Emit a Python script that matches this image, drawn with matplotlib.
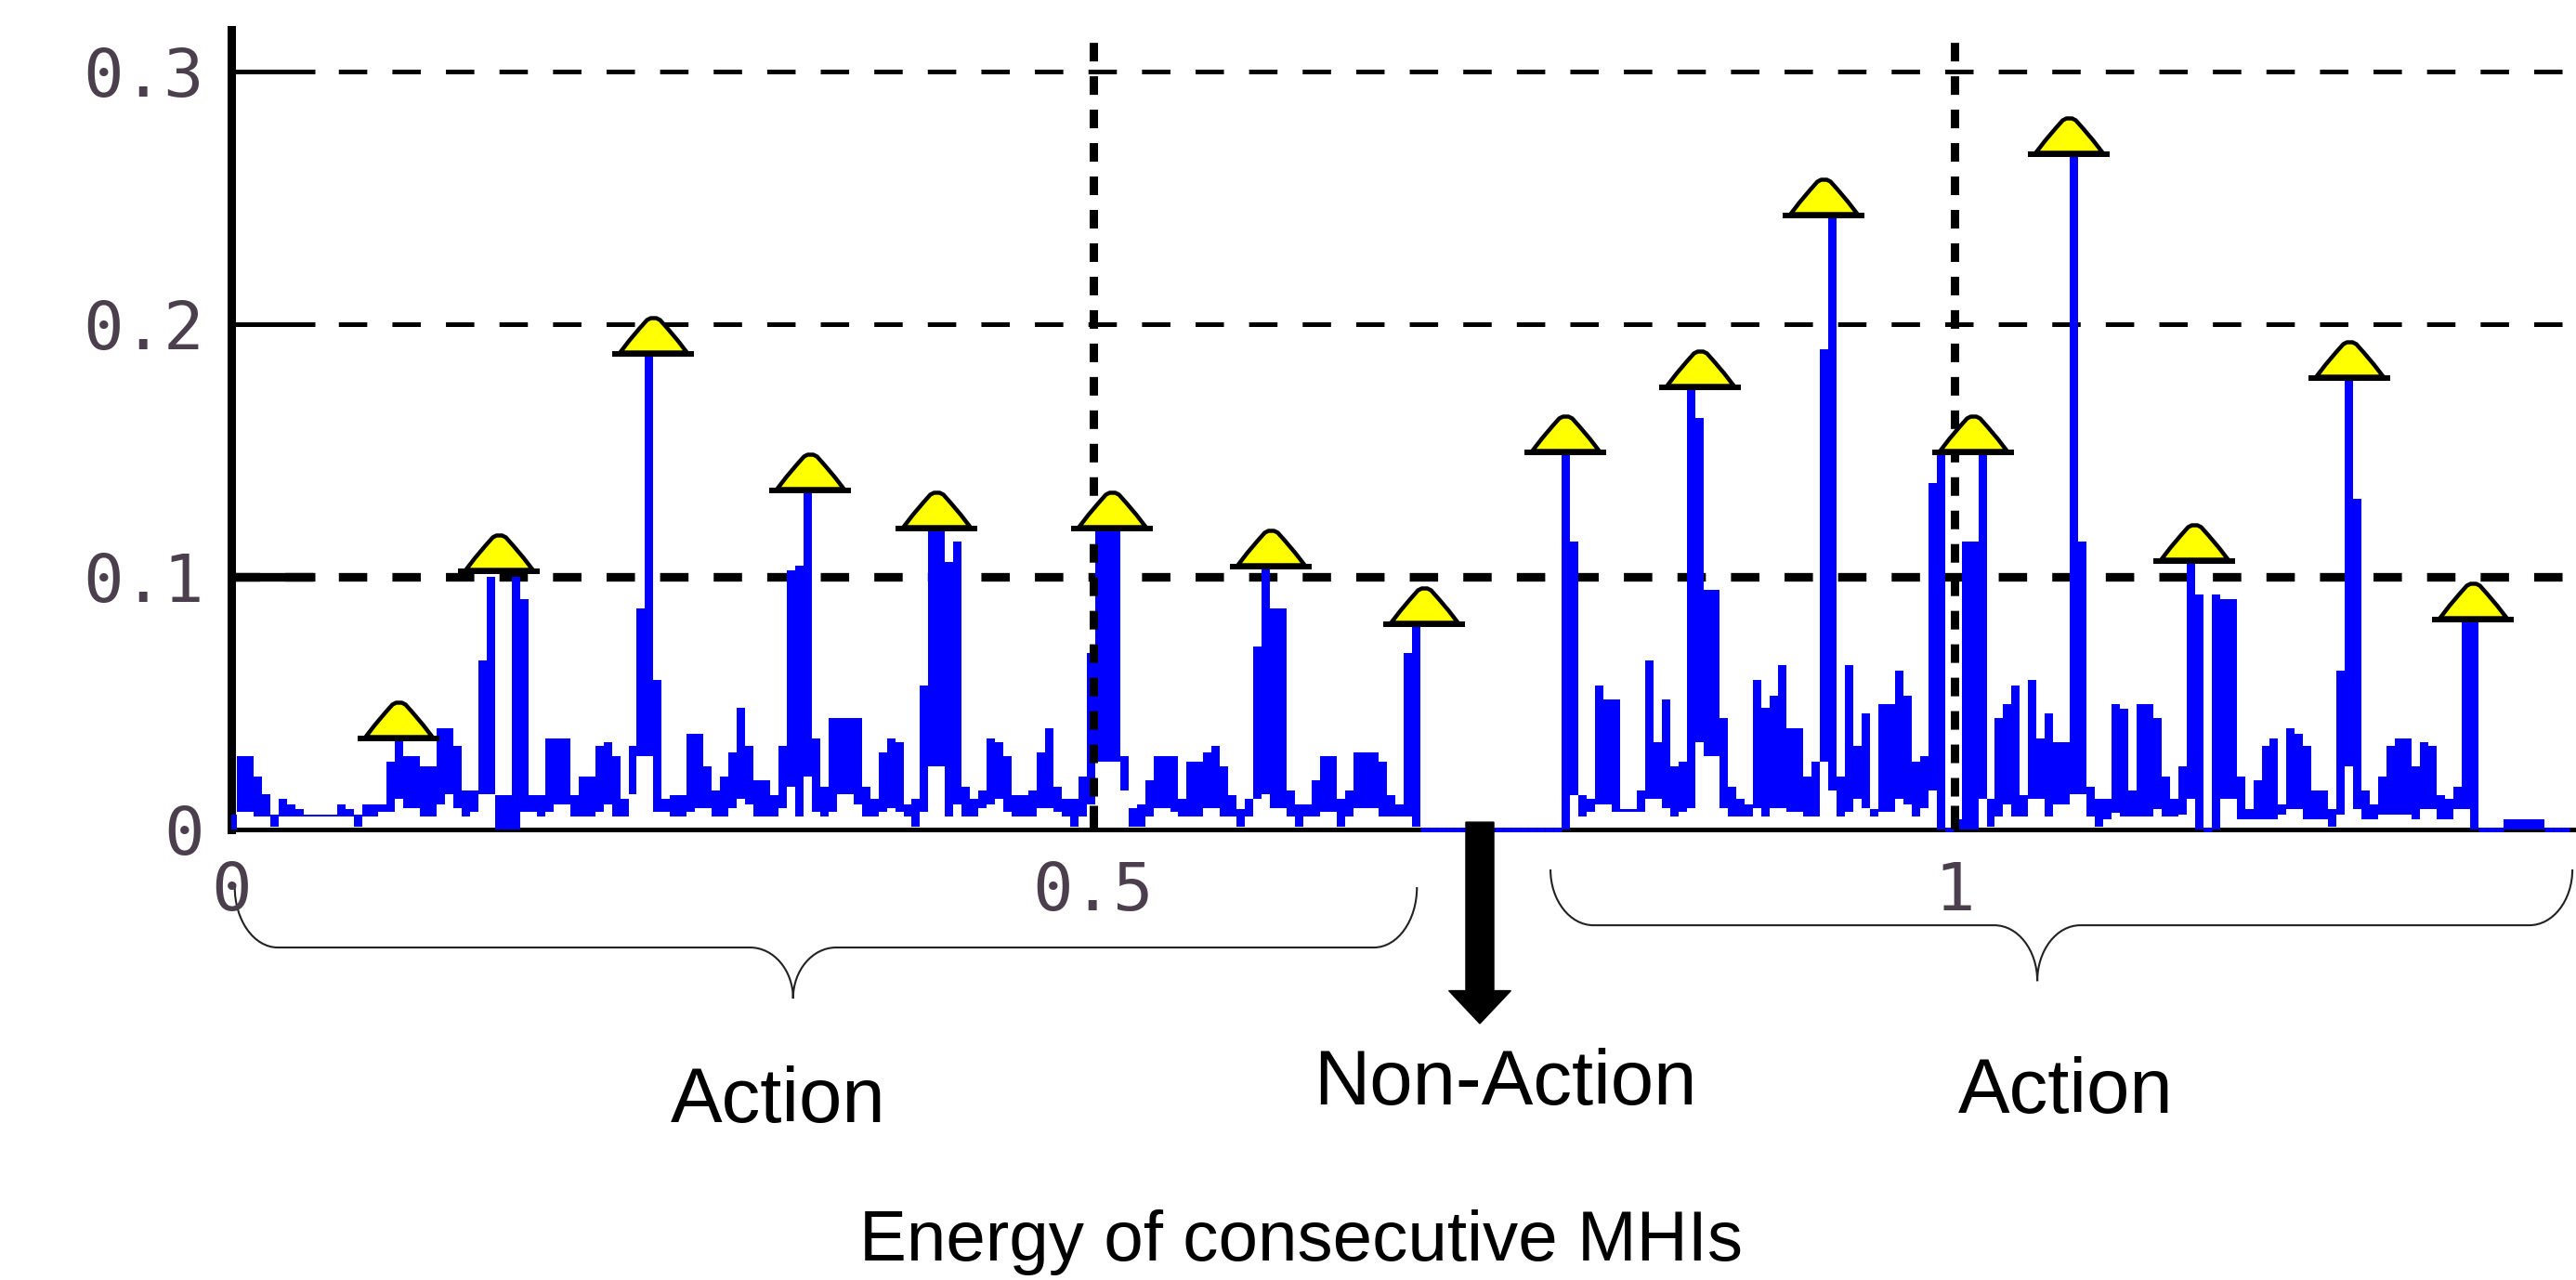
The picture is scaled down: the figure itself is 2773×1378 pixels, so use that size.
import numpy as np
import matplotlib.pyplot as plt
from matplotlib.path import Path
from matplotlib.patches import PathPatch, FancyArrow

plt.rcParams['lines.scale_dashes'] = False

# energy per frame: top and bottom of the blue band
e_hi = [0.006, 0.029, 0.029, 0.021, 0.014, 0.006, 0.012, 0.010, 0.008, 0.006,
        0.006, 0.006, 0.006, 0.010, 0.008, 0.006, 0.010, 0.010, 0.010, 0.027,
        0.035, 0.029, 0.029, 0.025, 0.025, 0.040, 0.040, 0.033, 0.0155, 0.0155,
        0.067, 0.100, 0.0136, 0.0136, 0.100, 0.091, 0.0136, 0.0136, 0.036, 0.036,
        0.036, 0.0136, 0.021, 0.021, 0.033, 0.0345, 0.029, 0.012, 0.033, 0.0876,
        0.187, 0.059, 0.012, 0.0136, 0.0136, 0.038, 0.038, 0.025, 0.0155, 0.021,
        0.0305, 0.048, 0.033, 0.0195, 0.0195, 0.0136, 0.033, 0.1026, 0.1045, 0.133,
        0.036, 0.017, 0.044, 0.044, 0.044, 0.044, 0.017, 0.012, 0.0305, 0.036,
        0.0345, 0.010, 0.012, 0.057, 0.118, 0.118, 0.106, 0.114, 0.017, 0.012,
        0.0155, 0.036, 0.0345, 0.029, 0.0136, 0.0136, 0.0155, 0.0305, 0.040, 0.017,
        0.012, 0.012, 0.021, 0.070, 0.118, 0.118, 0.118, 0.029, 0.0085, 0.010,
        0.0195, 0.029, 0.029, 0.029, 0.012, 0.027, 0.027, 0.0305, 0.033, 0.025,
        0.0136, 0.008, 0.012, 0.0725, 0.103, 0.0876, 0.0876, 0.0155, 0.010, 0.010,
        0.0195, 0.029, 0.029, 0.012, 0.0155, 0.0305, 0.0305, 0.0305, 0.027, 0.0136,
        0.010, 0.070, 0.080, 0.0, 0.0, 0.0, 0.0, 0.0, 0.0, 0.0,
        0.0, 0.0, 0.0, 0.0, 0.0, 0.0, 0.0, 0.0, 0.0, 0.0,
        0.148, 0.114, 0.0136, 0.012, 0.057, 0.0514, 0.0514, 0.008, 0.008, 0.0155,
        0.067, 0.0345, 0.0514, 0.025, 0.027, 0.174, 0.163, 0.095, 0.095, 0.044,
        0.017, 0.012, 0.010, 0.059, 0.048, 0.053, 0.065, 0.040, 0.040, 0.021,
        0.027, 0.190, 0.242, 0.021, 0.065, 0.033, 0.046, 0.008, 0.0496, 0.0496,
        0.063, 0.053, 0.027, 0.029, 0.137, 0.148, 0.0, 0.004, 0.114, 0.114,
        0.148, 0.012, 0.044, 0.0496, 0.057, 0.0136, 0.059, 0.036, 0.046, 0.0345,
        0.0345, 0.266, 0.114, 0.017, 0.012, 0.012, 0.0496, 0.0477, 0.0155, 0.0496,
        0.0496, 0.044, 0.021, 0.012, 0.025, 0.105, 0.093, 0.0, 0.093, 0.091,
        0.091, 0.021, 0.008, 0.0195, 0.033, 0.036, 0.010, 0.040, 0.038, 0.033,
        0.0155, 0.0155, 0.008, 0.063, 0.1775, 0.131, 0.0155, 0.010, 0.021, 0.033,
        0.036, 0.036, 0.025, 0.0345, 0.033, 0.0136, 0.012, 0.017, 0.082, 0.082,
        0.0, 0.0, 0.0, 0.004, 0.004, 0.004, 0.004, 0.004, 0.0, 0.0,
        0.0]
e_lo = [0.0, 0.007, 0.007, 0.005, 0.005, 0.001, 0.005, 0.005, 0.005, 0.005,
        0.005, 0.005, 0.005, 0.005, 0.005, 0.001, 0.005, 0.005, 0.007, 0.007,
        0.012, 0.0085, 0.0085, 0.005, 0.005, 0.010, 0.014, 0.0085, 0.005, 0.007,
        0.014, 0.014, 0.0, 0.0, 0.0, 0.007, 0.007, 0.005, 0.007, 0.010,
        0.010, 0.005, 0.005, 0.005, 0.007, 0.010, 0.005, 0.005, 0.014, 0.029,
        0.029, 0.007, 0.007, 0.005, 0.005, 0.007, 0.0085, 0.0085, 0.005, 0.005,
        0.0085, 0.012, 0.010, 0.005, 0.005, 0.005, 0.0085, 0.017, 0.005, 0.021,
        0.007, 0.005, 0.007, 0.014, 0.014, 0.010, 0.005, 0.005, 0.007, 0.0085,
        0.007, 0.005, 0.001, 0.007, 0.025, 0.025, 0.005, 0.010, 0.005, 0.005,
        0.0085, 0.010, 0.012, 0.007, 0.005, 0.005, 0.005, 0.0085, 0.0085, 0.007,
        0.005, 0.001, 0.005, 0.010, 0.027, 0.027, 0.027, 0.0155, 0.001, 0.001,
        0.005, 0.0085, 0.0085, 0.007, 0.005, 0.005, 0.005, 0.0085, 0.0085, 0.005,
        0.005, 0.001, 0.005, 0.012, 0.014, 0.0085, 0.0085, 0.005, 0.001, 0.005,
        0.005, 0.007, 0.007, 0.001, 0.005, 0.0085, 0.0085, 0.0085, 0.005, 0.005,
        0.005, 0.005, 0.001, 0.0, 0.0, 0.0, 0.0, 0.0, 0.0, 0.0,
        0.0, 0.0, 0.0, 0.0, 0.0, 0.0, 0.0, 0.0, 0.0, 0.0,
        0.0, 0.0136, 0.005, 0.007, 0.010, 0.010, 0.007, 0.007, 0.007, 0.007,
        0.012, 0.012, 0.0085, 0.005, 0.007, 0.0085, 0.0345, 0.029, 0.029, 0.0085,
        0.005, 0.005, 0.005, 0.0085, 0.005, 0.0085, 0.0085, 0.007, 0.007, 0.005,
        0.005, 0.027, 0.0155, 0.005, 0.007, 0.012, 0.0085, 0.005, 0.007, 0.007,
        0.012, 0.010, 0.005, 0.0085, 0.0155, 0.0, 0.0, 0.0, 0.0, 0.0,
        0.012, 0.001, 0.005, 0.010, 0.005, 0.005, 0.012, 0.012, 0.005, 0.010,
        0.010, 0.014, 0.014, 0.005, 0.001, 0.004, 0.0066, 0.005, 0.005, 0.005,
        0.005, 0.008, 0.005, 0.005, 0.006, 0.012, 0.0, 0.0, 0.0, 0.012,
        0.012, 0.004, 0.004, 0.004, 0.004, 0.004, 0.006, 0.008, 0.008, 0.004,
        0.004, 0.004, 0.001, 0.006, 0.025, 0.008, 0.004, 0.004, 0.006, 0.006,
        0.006, 0.006, 0.004, 0.008, 0.008, 0.004, 0.004, 0.008, 0.008, 0.0,
        0.0, 0.0, 0.0, 0.0, 0.0, 0.0, 0.0, 0.0, 0.0, 0.0,
        0.0]
t0 = 0.0008      # first frame
dt = 0.004835    # frame step

# key frames marked with yellow triangles
peak_x = [0.097, 0.155, 0.245, 0.336, 0.409, 0.511, 0.603, 0.692,
          0.774, 0.852, 0.924, 1.011, 1.066, 1.139, 1.229, 1.301]
peak_y = [0.035, 0.101, 0.187, 0.133, 0.118, 0.118, 0.103, 0.080,
          0.148, 0.174, 0.242, 0.148, 0.266, 0.105, 0.1775, 0.082]

x_ticks = [0, 0.5, 1]
x_labels = ['0', '0.5', '1']
y_ticks = [0, 0.1, 0.2, 0.3]
y_labels = ['0', '0.1', '0.2', '0.3']

# braces under the axis: (start, end, tip)
braces = [(0.002, 0.688, 0.326), (0.7655, 1.3585, 1.048)]
brace_y = [(-0.0228, -0.0467, -0.0669), (-0.0158, -0.0379, -0.060)]
nonaction_x = 0.7245

W, H, DPI = 2773, 1378, 100
fig = plt.figure(figsize=(W / DPI + 0.0001, H / DPI + 0.0001), dpi=DPI)
ax = fig.add_axes([249 / W, 485 / H, (W - 249) / W, 861 / H])
ax.set_xlim(0, 1.3606)
ax.set_ylim(0, 0.3165)

e_hi = np.array(e_hi)
e_lo = np.array(e_lo)
frames = t0 + dt * np.arange(len(e_hi))

ax.bar(frames, e_hi - e_lo, bottom=e_lo, width=dt, color='#0000ff',
       linewidth=0, antialiased=False, zorder=3)
quiet = e_hi == 0
ax.hlines(np.zeros(quiet.sum()), frames[quiet] - dt / 2, frames[quiet] + dt / 2,
          colors='#0000ff', linewidth=3.6, zorder=3.2, clip_on=False)

# grid, the way the old matlab figure has it
for yv in y_ticks[1:]:
    lw = 6.7 if yv == 0.1 else 3.6
    ax.axhline(yv, color='black', linewidth=lw, linestyle=(0, (22, 19.5)), zorder=1)
for xv in x_ticks[1:]:
    ax.axvline(xv, color='black', linewidth=6.5, linestyle=(0, (14.4, 11.5)), zorder=4)

# markers: yellow cone with a black foot
cone = Path([(-36, 5), (-26, 18), (-15, 31), (-7, 40), (-3, 42), (3, 42),
             (7, 40), (15, 31), (26, 18), (36, 5), (-36, 5)], closed=True)
foot = Path([(-44, 0), (44, 0), (44, 6), (-44, 6), (-44, 0)], closed=True)
px2pt = 72 / DPI
ax.plot(peak_x, peak_y, linestyle='none', marker=cone, markersize=2 * 42 * px2pt,
        markerfacecolor='#ffff00', markeredgecolor='black', markeredgewidth=3.2,
        zorder=6, clip_on=False)
ax.plot(peak_x, peak_y, linestyle='none', marker=foot, markersize=2 * 44 * px2pt,
        markerfacecolor='black', markeredgewidth=0, zorder=6.5, clip_on=False)

for s in ['top', 'right']:
    ax.spines[s].set_visible(False)
ax.spines['left'].set_linewidth(6.5)
ax.spines['bottom'].set_linewidth(3.6)

tick_font = dict(family='DejaVu Sans Mono', size=52)
ax.set_xticks(x_ticks)
ax.set_xticklabels(x_labels, fontdict=tick_font, color='#4b3f4d')
ax.set_yticks(y_ticks)
ax.set_yticklabels(y_labels, fontdict=tick_font, color='#4b3f4d')
ax.tick_params(axis='x', direction='in', length=19, width=6.5, pad=24)
ax.tick_params(axis='y', direction='in', length=65, width=3.6, pad=21)
for t, w in zip(ax.yaxis.get_major_ticks(), [3.6, 6.7, 3.6, 3.6]):
    t.tick1line.set_markeredgewidth(w)

# braces
k = 0.5523
rx = 0.025
for (x0, x1, xm), (yt, yh, yb) in zip(braces, brace_y):
    verts = [(x0, yt),
             (x0, yt - k * (yt - yh)), (x0 + rx - k * rx, yh), (x0 + rx, yh),
             (xm - rx, yh),
             (xm - rx + k * rx, yh), (xm, yb + k * (yh - yb)), (xm, yb),
             (xm, yb + k * (yh - yb)), (xm + rx - k * rx, yh), (xm + rx, yh),
             (x1 - rx, yh),
             (x1 - rx + k * rx, yh), (x1, yt - k * (yt - yh)), (x1, yt)]
    codes = [Path.MOVETO, Path.CURVE4, Path.CURVE4, Path.CURVE4, Path.LINETO,
             Path.CURVE4, Path.CURVE4, Path.CURVE4, Path.CURVE4, Path.CURVE4,
             Path.CURVE4, Path.LINETO, Path.CURVE4, Path.CURVE4, Path.CURVE4]
    ax.add_patch(PathPatch(Path(verts, codes), facecolor='none', edgecolor='#222222',
                           linewidth=1.5, clip_on=False))

ax.add_patch(FancyArrow(nonaction_x, 0.0029, 0, -0.0797, width=0.0162, head_width=0.036,
                        head_length=0.013, length_includes_head=True, color='black',
                        clip_on=False, zorder=7))

lab = dict(family='Liberation Sans', ha='center', va='baseline')
ax.text(0.3175, -0.1158, 'Action', fontsize=60, **lab)
ax.text(0.739, -0.1088, 'Non-Action', fontsize=60, **lab)
ax.text(1.0647, -0.1121, 'Action', fontsize=60, **lab)
ax.text(0.6205, -0.1706, 'Energy of consecutive MHIs', fontsize=55, **lab)

fig.savefig('out.png', dpi=DPI)
